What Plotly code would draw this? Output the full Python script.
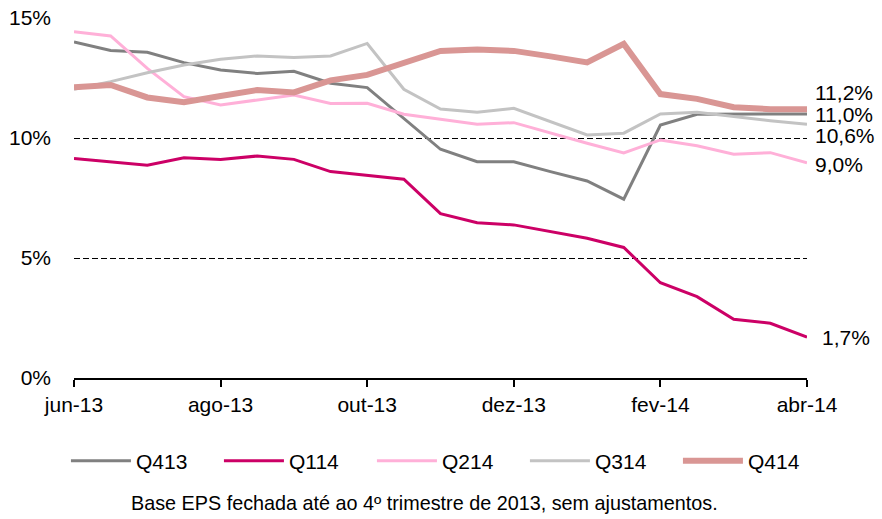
import plotly.graph_objects as go

# ---- data ----
x_index = list(range(21))  # half-month observations, jun-13 .. abr-14
tick_positions = [0, 4, 8, 12, 16, 20]
tick_labels = ["jun-13", "ago-13", "out-13", "dez-13", "fev-14", "abr-14"]

series_names = ["Q413", "Q114", "Q214", "Q314", "Q414"]

q413 = [14.0, 13.65, 13.57, 13.14, 12.83, 12.69, 12.78, 12.28, 12.1, 10.8, 9.53,
        9.01, 9.01, 8.6, 8.21, 7.45, 10.54, 10.99, 11.0, 11.0, 11.0]
q114 = [9.15, 9.02, 8.87, 9.18, 9.1, 9.25, 9.11, 8.6, 8.45, 8.28, 6.85,
        6.47, 6.38, 6.1, 5.82, 5.44, 3.97, 3.39, 2.45, 2.28, 1.7]
q214 = [14.43, 14.25, 12.9, 11.72, 11.38, 11.6, 11.79, 11.44, 11.45, 10.99, 10.78,
        10.57, 10.64, 10.2, 9.78, 9.38, 9.92, 9.68, 9.32, 9.39, 8.97]
q314 = [12.03, 12.35, 12.72, 13.04, 13.28, 13.42, 13.35, 13.42, 13.94, 12.03, 11.21,
        11.07, 11.24, 10.7, 10.13, 10.2, 11.0, 11.07, 10.89, 10.72, 10.57]
q414 = [12.11, 12.21, 11.69, 11.49, 11.75, 12.0, 11.9, 12.4, 12.63, 13.11, 13.63,
        13.69, 13.63, 13.4, 13.15, 13.92, 11.83, 11.63, 11.28, 11.2, 11.2]

y_ticks = [0, 5, 10, 15]
y_tick_labels = ["0%", "5%", "10%", "15%"]

footnote = "Base EPS fechada até ao 4º trimestre de 2013, sem ajustamentos."

# ---- styles ----
values = [q413, q114, q214, q314, q414]
colors = ["#808080", "#CC0066", "#FFB0D8", "#C3C3C3", "#D99694"]
widths = [3, 3, 3, 3, 6]
label_yshift = [0, 0, -2, -11, 17]   # end-label offsets (px)
label_xshift = [6, 13, 6, 6, 6]

FONT = "Arial, Liberation Sans, sans-serif"
FS = 21

fig = go.Figure()
for name, vals, col, w in zip(series_names, values, colors, widths):
    fig.add_trace(go.Scatter(
        x=x_index, y=vals, mode="lines", name=name,
        line=dict(color=col, width=w),
        cliponaxis=False,
    ))

for name, vals, dy, dx in zip(series_names, values, label_yshift, label_xshift):
    fig.add_annotation(
        x=x_index[-1], y=vals[-1], xref="x", yref="y",
        text=f"{vals[-1]:.1f}%".replace(".", ","),
        showarrow=False, xanchor="left", yanchor="middle",
        xshift=dx, yshift=dy,
        font=dict(family=FONT, size=FS, color="#000000"),
    )

fig.add_annotation(
    x=0.478, y=-0.347, xref="paper", yref="paper",
    text=footnote, showarrow=False, xanchor="center", yanchor="middle",
    font=dict(family=FONT, size=19.8, color="#000000"),
)

fig.update_layout(
    width=882, height=519,
    margin=dict(l=74, r=75, t=18, b=141, autoexpand=False),
    paper_bgcolor="white", plot_bgcolor="white",
    font=dict(family=FONT, size=FS, color="#000000"),
    showlegend=True,
    legend=dict(
        orientation="h", x=-0.011, y=-0.2306, xref="paper", yref="paper",
        xanchor="left", yanchor="middle",
        font=dict(family=FONT, size=FS, color="#000000"),
        entrywidth=78, entrywidthmode="pixels",
        itemwidth=60, tracegroupgap=0,
        bgcolor="rgba(0,0,0,0)",
    ),
    xaxis=dict(
        range=[0, 20], tickvals=tick_positions, ticktext=tick_labels,
        showgrid=False, zeroline=False,
        showline=True, linecolor="#000000", linewidth=1.5,
        ticks="outside", ticklen=7, tickwidth=1.5, tickcolor="#000000",
        tickfont=dict(family=FONT, size=FS, color="#000000"),
        fixedrange=True,
    ),
    yaxis=dict(
        range=[0, 15], tickvals=y_ticks, ticktext=y_tick_labels,
        showgrid=True, gridcolor="#000000", gridwidth=1, griddash="6px,3px",
        zeroline=False, showline=False, ticks="",
        ticklabelstandoff=22,
        tickfont=dict(family=FONT, size=FS, color="#000000"),
        fixedrange=True,
    ),
)

fig.write_html("out.html", config={"displayModeBar": False},
               post_script="document.body.style.margin='0';")
